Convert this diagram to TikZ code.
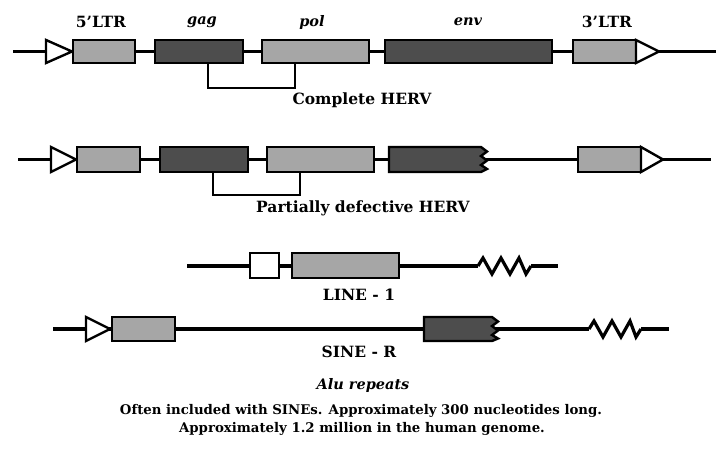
\documentclass[tikz,border=0pt]{standalone}
\usepackage{fontspec}
\setmainfont{DejaVu Serif}
\definecolor{lightg}{HTML}{A6A6A6}
\definecolor{darkg}{HTML}{4D4D4D}
\begin{document}
\begin{tikzpicture}[x=1pt,y=-1pt,
  backbone/.style={line width=3.2pt, black},
  box/.style={draw=black, line width=2.4pt, inner sep=0pt, rectangle},
  lbox/.style={box, fill=lightg},
  dbox/.style={box, fill=darkg},
  wbox/.style={box, fill=white},
  tri/.style={draw=black, fill=white, line width=2.4pt, line join=miter},
  brk/.style={draw=black, fill=darkg, line width=2.4pt, line join=miter},
  brack/.style={line width=1.8pt},
  zz/.style={line width=3.2pt, line join=miter},
  lbl/.style={font=\bfseries\fontsize{15.5}{18}\selectfont, inner sep=0pt},
  ilbl/.style={font=\bfseries\itshape\fontsize{14.5}{17}\selectfont, inner sep=0pt},
  txt/.style={font=\bfseries\fontsize{13.3}{15}\selectfont, inner sep=0pt}]
\useasboundingbox (0,0) rectangle (716,456);
\fill[white] (0,0) rectangle (716,456);

% ---------- Row 1: complete HERV ----------
\coordinate (r1s) at (13,51.5);
\coordinate (r1e) at (716,51.5);
\draw[backbone] (r1s) -- (r1e);
\draw[tri] (46,40) -- (46,63) -- (72,51.5) -- cycle;
\node[lbox, minimum width=62pt, minimum height=23pt] (ltr5) at (104,51.5) {};
\node[dbox, minimum width=88pt, minimum height=23pt] (gag) at (199,51.5) {};
\node[lbox, minimum width=107pt, minimum height=23pt] (pol) at (315.5,51.5) {};
\node[dbox, minimum width=167pt, minimum height=23pt] (env) at (468.5,51.5) {};
\node[lbox, minimum width=63pt, minimum height=23pt] (ltr3) at (604.5,51.5) {};
\draw[tri] (636,40) -- (636,63) -- (659,51.5) -- cycle;
\node[lbl] (t5) at (101,22) {5’LTR};
\node[ilbl] (tg) at (202,22) {gag};
\node[ilbl] (tp) at (312,22) {pol};
\node[ilbl] (te) at (468,22) {env};
\node[lbl] (t3) at (607,22) {3’LTR};
\draw[brack] ([xshift=9pt]gag.south) -- ++(0,24) -| ([xshift=-20.5pt]pol.south);
\node[lbl] (l1) at (362,100) {Complete HERV};

% ---------- Row 2: partially defective HERV ----------
\coordinate (r2s) at (18,159.5);
\coordinate (r2e) at (711,159.5);
\draw[backbone] (r2s) -- (r2e);
\draw[tri] (51,147) -- (51,172) -- (76,159.5) -- cycle;
\node[lbox, minimum width=63pt, minimum height=25pt] (ltr5b) at (108.5,159.5) {};
\node[dbox, minimum width=88pt, minimum height=25pt] (gagb) at (204,159.5) {};
\node[lbox, minimum width=107pt, minimum height=25pt] (polb) at (320.5,159.5) {};
\draw[brk] (389,147) -- (481,147) -- (487,151.5) -- (481,156) -- (487,160.5) -- (481,165) -- (487,169) -- (481,172) -- (389,172) -- cycle;
\node[lbox, minimum width=63pt, minimum height=25pt] (ltr3b) at (609.5,159.5) {};
\draw[tri] (641,147) -- (641,172) -- (663,159.5) -- cycle;
\draw[brack] ([xshift=9pt]gagb.south) -- ++(0,22) -| ([xshift=-20.5pt]polb.south);
\node[lbl] (l2) at (363,208) {Partially defective HERV};

% ---------- Row 3: LINE-1 ----------
\coordinate (r3s) at (187,266);
\coordinate (z3s) at (478,266);
\coordinate (z3e) at (531,266);
\coordinate (r3e) at (558,266);
\draw[backbone] (r3s) -- (z3s);
\draw[zz] (z3s) -- (483,258) -- (492,274) -- (501,258) -- (510,274) -- (519,258) -- (526,274) -- (z3e);
\draw[backbone] (z3e) -- (r3e);
\node[wbox, minimum width=29pt, minimum height=25pt] (w3) at (264.5,265.5) {};
\node[lbox, minimum width=107pt, minimum height=25pt] (g3) at (345.5,265.5) {};
\node[lbl] (l3) at (359,295) {LINE - 1};

% ---------- Row 4: SINE-R ----------
\coordinate (r4s) at (53,329);
\coordinate (z4s) at (589,329);
\coordinate (z4e) at (641,329);
\coordinate (r4e) at (669,329);
\draw[backbone] (r4s) -- (z4s);
\draw[zz] (z4s) -- (594,321) -- (603,337) -- (612,321) -- (621,337) -- (630,321) -- (636,337) -- (z4e);
\draw[backbone] (z4e) -- (r4e);
\draw[tri] (86,317) -- (86,341) -- (110,329) -- cycle;
\node[lbox, minimum width=63pt, minimum height=24pt] (s4) at (143.5,329) {};
\draw[brk] (424,317) -- (492,317) -- (498,321.5) -- (492,326) -- (498,330.5) -- (492,335) -- (498,338.5) -- (492,341) -- (424,341) -- cycle;
\node[lbl] (l4) at (359,352) {SINE - R};

% ---------- Bottom text ----------
\node[ilbl] (alu) at (363,385) {Alu repeats};
\node[txt] (n1) at (361,411) {Often included with SINEs. Approximately 300 nucleotides long.};
\node[txt] (n2) at (362,429) {Approximately 1.2 million in the human genome.};
\end{tikzpicture}
\end{document}
